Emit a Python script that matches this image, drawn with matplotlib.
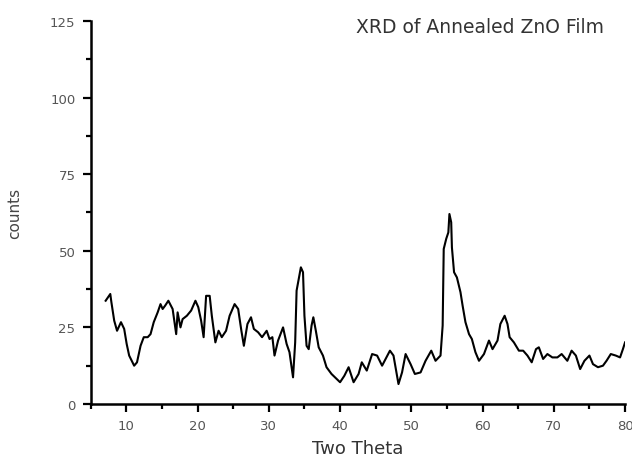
import matplotlib
matplotlib.use("Agg")
import matplotlib.pyplot as plt
from matplotlib.ticker import MultipleLocator

two_theta = [7.1, 7.75, 7.9, 8.3, 8.7, 9.25, 9.7, 10.05, 10.4, 11.1, 11.5, 12.0, 12.45, 13.0, 13.4,
             13.85, 14.4, 14.8, 15.1, 15.45, 15.9, 16.5, 17.0, 17.2, 17.6, 17.9, 18.5, 19.1, 19.7,
             20.1, 20.5, 20.85, 21.2, 21.7, 22.0, 22.5, 22.95, 23.4, 24.0, 24.5, 25.2, 25.7, 26.15,
             26.5, 27.0, 27.5, 27.9, 28.5, 29.05, 29.7, 30.1, 30.5, 30.8, 31.3, 32.0, 32.5, 32.9,
             33.2, 33.4, 33.7, 33.9, 34.2, 34.5, 34.8, 35.0, 35.3, 35.6, 36.0, 36.25, 36.6, 37.0,
             37.6, 38.1, 38.8, 39.5, 40.0, 40.6, 41.2, 41.9, 42.6, 43.05, 43.75, 44.5, 45.2, 45.9,
             46.4, 47.0, 47.5, 48.0, 48.2, 48.7, 49.2, 49.9, 50.5, 51.3, 52.0, 52.8, 53.4, 54.1,
             54.4, 54.55, 54.9, 55.2, 55.35, 55.6, 55.7, 56.0, 56.4, 56.9, 57.2, 57.6, 58.1, 58.5,
             59.0, 59.5, 60.2, 60.9, 61.4, 62.1, 62.5, 63.1, 63.5, 63.8, 64.4, 65.1, 65.7, 66.3,
             66.9, 67.5, 67.9, 68.5, 69.1, 69.8, 70.5, 71.1, 71.9, 72.5, 73.1, 73.7, 74.3, 75.0,
             75.5, 76.2, 76.9, 77.4, 78.0, 78.7, 79.3, 79.7, 80.0]
counts = [33.7, 35.9, 33.3, 27.2, 23.9, 26.7, 24.5, 19.6, 15.8, 12.5, 13.6, 19.0, 21.8, 21.8, 22.8,
          26.7, 29.9, 32.6, 31.0, 32.1, 33.7, 31.0, 22.8, 29.9, 25.0, 27.7, 28.8, 30.5, 33.7,
          31.6, 27.2, 21.8, 35.3, 35.3, 28.8, 20.1, 23.9, 21.8, 23.9, 28.8, 32.6, 31.0, 23.9,
          19.0, 26.1, 28.3, 24.5, 23.4, 21.8, 23.9, 21.2, 21.8, 15.8, 20.7, 25.0, 19.6, 16.9,
          12.0, 8.7, 20.1, 37.0, 40.8, 44.6, 43.0, 28.8, 19.0, 17.9, 25.6, 28.3, 23.9, 18.5,
          15.8, 12.0, 9.8, 8.2, 7.1, 9.2, 12.0, 7.1, 9.8, 13.6, 10.9, 16.3, 15.8, 12.5,
          14.7, 17.4, 15.8, 9.2, 6.5, 10.3, 16.3, 13.0, 9.8, 10.3, 14.1, 17.4, 14.1, 15.8,
          25.6, 50.6, 53.9, 56.0, 62.0, 59.3, 51.1, 43.0, 41.3, 36.5, 32.1, 26.7, 22.8, 21.2,
          16.9, 14.1, 16.3, 20.7, 17.9, 20.7, 26.1, 28.8, 26.1, 21.8, 20.1, 17.4, 17.4, 15.8,
          13.6, 17.9, 18.5, 14.7, 16.3, 15.2, 15.2, 16.3, 14.1, 17.4, 15.8, 11.4, 14.1, 15.8,
          13.0, 12.0, 12.5, 14.1, 16.3, 15.8, 15.2, 17.9, 20.1]

plt.rcParams['font.family'] = ['DejaVu Sans']

fig = plt.figure(figsize=(6.32, 4.60), dpi=100)
ax = fig.add_axes([0.1435, 0.1196, 0.8455, 0.8326])
ax.plot(two_theta, counts, color='black', linewidth=1.5)

ax.set_xlim(5, 80)
ax.set_ylim(0, 125)
ax.xaxis.set_major_locator(MultipleLocator(10))
ax.xaxis.set_minor_locator(MultipleLocator(5))
ax.yaxis.set_major_locator(MultipleLocator(25))
ax.yaxis.set_minor_locator(MultipleLocator(12.5))
ax.set_xticks([10, 20, 30, 40, 50, 60, 70, 80])

for s in ['top', 'right']:
    ax.spines[s].set_visible(False)
for s in ['left', 'bottom']:
    ax.spines[s].set_linewidth(1.8)
    ax.spines[s].set_color('black')

ax.tick_params(axis='both', which='major', length=6, width=1.6, direction='out',
               labelsize=9.5, labelcolor='#555555', pad=5)
ax.tick_params(axis='both', which='minor', length=3.5, width=1.6, direction='out')

ax.set_xlabel('Two Theta', fontsize=13, color='#333333', labelpad=5)
ax.set_ylabel('counts', fontsize=11, color='#444444', labelpad=20)
ax.text(0.7286, 1.01, 'XRD of Annealed ZnO Film', transform=ax.transAxes,
        fontsize=13.5, color='#333333', va='top', ha='center')

fig.savefig('out.png', dpi=100)
